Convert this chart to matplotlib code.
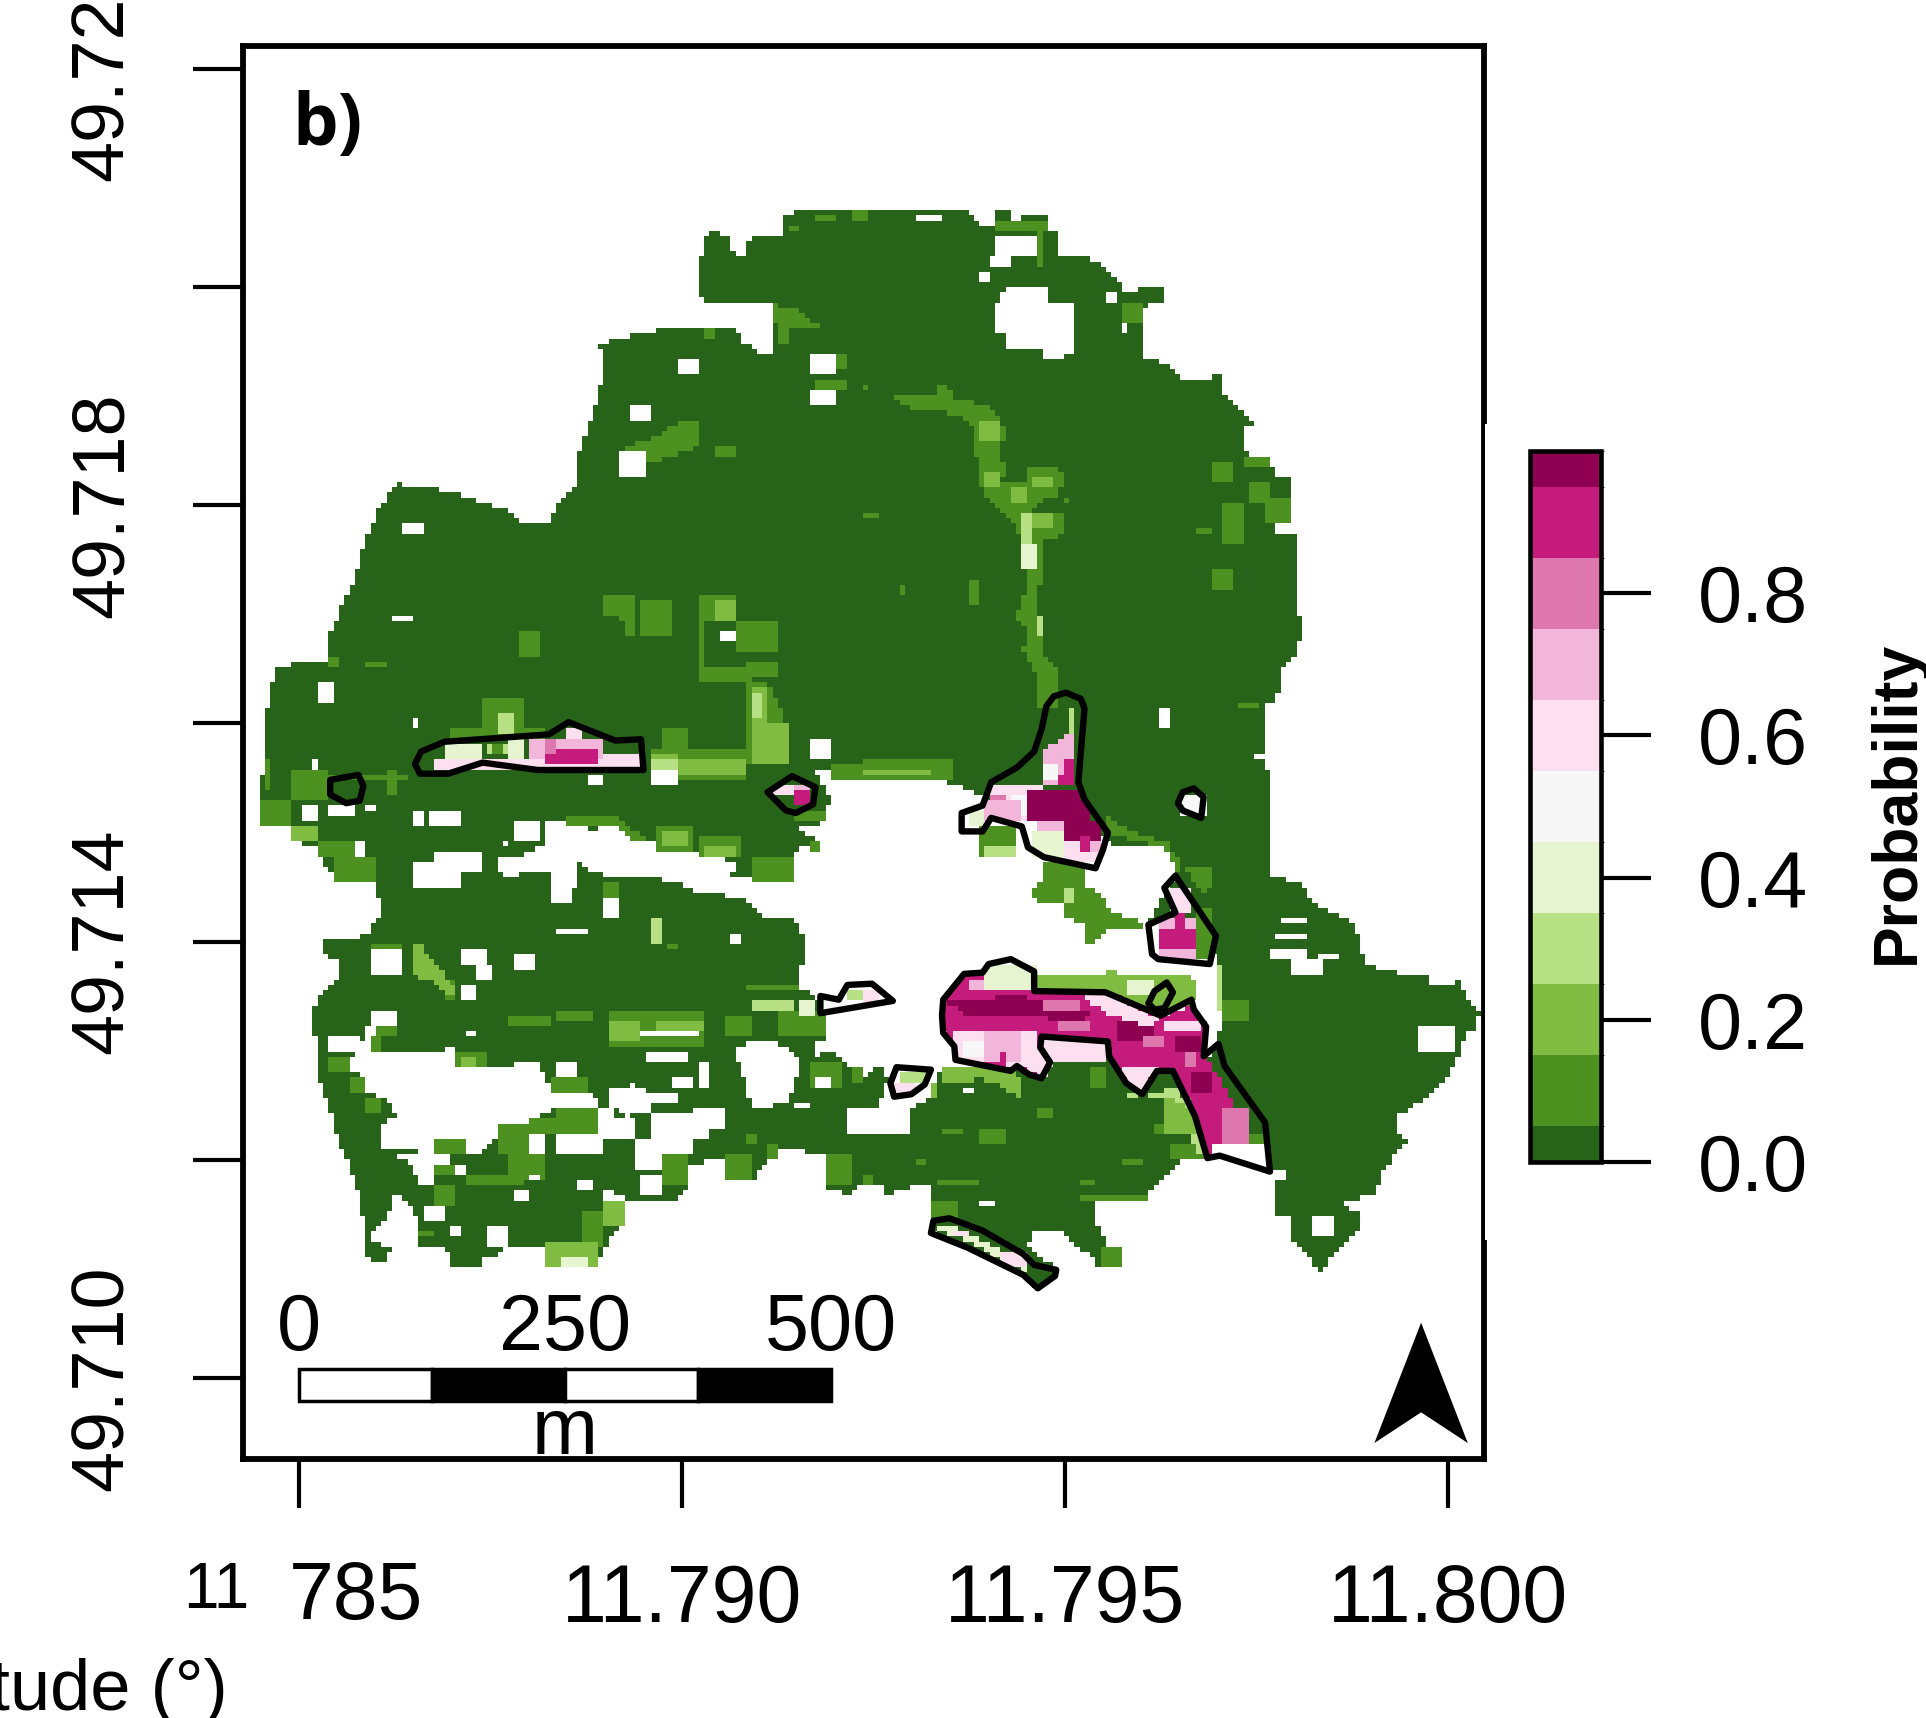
import numpy as np
import matplotlib
matplotlib.use('Agg')
import matplotlib.pyplot as plt
from matplotlib.colors import ListedColormap, BoundaryNorm
from matplotlib.patches import Polygon, Rectangle
from matplotlib.path import Path

plt.rcParams['font.family'] = ['Liberation Sans', 'DejaVu Sans']

## colour classes of the probability raster
class_breaks = [0, 0.05, 0.15, 0.25, 0.35, 0.45, 0.55, 0.65, 0.75, 0.85, 0.95, 1.0]
class_colors = ['#276419', '#4D9221', '#7FBC41', '#B8E186', '#E6F5D0', '#F7F7F7',
                '#FDE0EF', '#F1B6DA', '#DE77AE', '#C51B7D', '#8E0152']

## axis calibration: digitised position -> coordinate
lon_ticks = [11.785, 11.790, 11.795, 11.800]
lat_ticks = [49.710, 49.712, 49.714, 49.716, 49.718, 49.720, 49.722]
lat_tick_labels = ['49.710', '', '49.714', '', '49.718', '', '49.722']
lon_tick_labels = ['', '11.790', '11.795', '11.800']
prob_ticks = [0.0, 0.2, 0.4, 0.6, 0.8]
scale_m = [0, 125, 250, 375, 500]
scale_labels = ['0', '250', '500']

## digitised map shapes, polygons are (x, y) and boxes are (x0, x1, y0, y1)
site_outline = [
    (635,175),(678,171),(772,171),(793,175),(798,186),(810,186),(811,171),(819,171),(824,179),(853,175),
    (854,187),(863,192),(859,210),(888,211),(907,225),(914,238),(945,235),(949,246),(932,250),(932,295),
    (945,295),(963,311),(993,307),(997,323),(1010,335),(1023,347),(1011,347),(1011,370),(1032,371),(1037,387),
    (1049,391),(1049,426),(1037,427),(1037,435),(1053,435),(1053,500),(1058,500),(1058,520),(1053,535),(1044,544),
    (1040,563),(1035,573),(1028,576),(1028,613),(1032,628),(1032,714),(1058,719),(1072,738),(1097,750),(1105,760),
    (1110,784),(1127,791),(1162,795),(1162,803),(1183,803),(1187,795),(1192,814),(1205,825),(1200,838),(1192,841),
    (1188,857),(1179,874),(1167,890),(1148,903),(1135,908),(1135,918),(1145,928),(1127,951),(1118,973),(1093,979),
    (1105,988),(1105,1003),(1080,1028),(1075,1039),(1067,1027),(1050,1007),(1050,990),(1037,990),(1037,963),(1045,962),
    (1045,951),(1033,951),(987,943),(958,947),(950,958),(933,973),(893,978),(890,994),(900,1012),(913,1020),
    (905,1034),(893,1034),(893,1023),(880,1020),(863,1004),(840,1004),(837,1015),(860,1034),(845,1049),(830,1038),
    (760,1004),(758,993),(760,979),(760,967),(740,967),(723,974),(717,967),(700,963),(692,974),(670,966),
    (670,941),(635,935),(625,943),(612,962),(588,955),(588,943),(558,951),(562,966),(548,978),(515,978),
    (492,967),(492,985),(508,993),(508,998),(492,1015),(487,1031),(448,1031),(445,1015),(410,1015),(408,1021),
    (392,1023),(392,1034),(370,1034),(362,1015),(340,1015),(342,996),(335,982),(322,971),(315,990),(305,1001),
    (302,1010),(318,1016),(313,1027),(302,1027),(297,1017),(297,1001),(293,974),(288,958),(280,939),(272,918),
    (267,898),(258,875),(258,846),(253,845),(253,838),(258,811),(275,799),(275,784),(263,774),(263,766),
    (302,762),(302,751),(310,749),(310,738),(305,716),(273,717),(262,703),(258,692),(237,685),(237,674),
    (212,674),(212,654),(215,610),(219,562),(228,542),(267,540),(267,520),(275,503),(280,488),(288,477),
    (297,440),(305,424),(310,412),(323,395),(345,397),(375,403),(388,408),(413,415),(427,427),(448,427),
    (453,412),(467,400),(470,373),(475,357),(483,337),(488,323),(491,293),(488,280),(510,275),(543,268),
    (600,268),(605,280),(618,287),(630,287),(630,247),(578,247),(570,243),(570,210),(575,195),(578,187),
    (595,195),(597,210),(608,210),(610,195),(638,193),
]
central_gap = [
    (407,700),(422,698),(442,689),(445,667),(462,667),(482,678),(498,671),(515,684),(535,688),(558,686),
    (568,697),(598,701),(600,709),(592,716),(648,716),(648,692),(668,689),(652,675),(672,670),(672,662),
    (675,651),(662,626),(678,626),(688,634),(717,634),(720,637),(757,632),(787,643),(800,650),(895,680),
    (905,690),(947,690),(958,710),(935,752),(985,760),(990,790),(993,810),(993,840),(985,860),(900,850),
    (850,850),(800,870),(767,871),(757,884),(757,894),(743,903),(740,922),(688,922),(688,904),(715,902),
    (722,880),(715,865),(705,880),(688,866),(678,856),(665,860),(665,848),(672,846),(673,827),(667,814),
    (650,804),(650,792),(655,781),(655,770),(650,751),(637,747),(620,746),(607,731),(570,727),(549,719),
    (530,715),(483,712),(471,703),(465,734),(447,734),(447,712),(409,713),(404,703),
]
west_gap = [
    (300,836),(309,836),(310,855),(362,855),(370,852),(372,860),(380,871),(397,871),(428,865),(437,864),
    (440,871),(448,887),(453,891),(482,891),(488,902),(453,903),(432,912),(418,917),(405,924),(392,939),
    (378,939),(377,928),(355,930),(352,939),(310,935),(310,918),(322,909),(318,899),(302,891),(297,893),
    (295,876),(283,871),(285,860),(293,856),(293,853),
]
south_gaps = [
    [(320,940),(366,940),(366,947),(353,948),(353,967),(340,963),(335,947)],
    [(497,887),(517,883),(528,890),(552,891),(552,899),(530,899),(528,906),(510,909),(500,903),(497,915),(495,905)],
    [(453,925),(470,918),(495,900),(500,912),(517,913),(518,928),(492,928),(492,939),(453,939)],
    [(532,907),(591,903),(591,918),(578,920),(578,928),(565,929),(565,939),(540,940),(540,955),(518,951),(518,928),(530,926)],
    [(600,852),(622,848),(638,852),(652,863),(642,898),(613,903),(605,879),(600,863)],
    [(811,247),(819,235),(854,235),(854,247),(876,247),(876,288),(867,288),(867,292),(850,292),(850,283),(819,283),(819,275),(811,271)],
    [(985,933),(1018,930),(1030,925),(1036,955),(990,945)],
]
small_gaps = [
    (553,570,292,304),(660,682,287,304),(660,682,319,331),(513,530,331,344),(505,527,367,388),(327,344,428,436),
    (319,336,500,508),(258,271,556,573),(336,340,584,592),(587,600,516,524),(657,678,601,617),(531,553,627,640),
    (480,492,630,640),(253,258,620,629),(245,258,655,670),(267,288,655,666),(297,306,655,662),(336,344,662,671),
    (349,375,659,671),(418,440,667,686),(288,297,687,698),(410,413,687,690),(336,375,703,723),(353,392,695,711),
    (492,505,731,747),(453,479,755,762),(596,604,762,770),(631,639,767,770),(302,327,774,795),(375,397,775,787),
    (388,401,787,798),(418,436,779,790),(375,388,803,814),(302,323,823,835),(379,388,839,846),(267,293,843,855),
    (453,470,867,878),(522,570,839,846),(527,561,855,867),(570,578,867,886),(548,565,879,886),(665,678,879,886),
    (647,660,899,903),(432,444,922,939),(370,379,947,958),(431,440,958,962),(471,483,963,971),(418,431,971,979),
    (522,540,958,974),(345,362,983,995),(366,375,999,1006),(397,413,999,1015),(747,768,175,179),(811,842,191,210),
    (807,823,210,218),(798,807,223,231),(898,907,239,247),(911,919,263,271),(941,950,577,592),(954,958,584,592),
    (1019,1028,613,617),(1040,1062,747,754),(1037,1062,759,766),(1032,1062,774,783),(1049,1075,783,795),
    (1071,1088,779,783),(1153,1183,836,855),(1066,1083,991,1007),(798,811,979,983),(782,793,887,891),
]
green_dark_boxes = [
    (665,687,308,319),(693,708,171,179),(665,682,175,179),(643,652,183,187),(657,665,287,300),(682,687,287,300),
    (573,583,267,275),(583,600,364,372),(522,548,489,520),(423,440,516,536),(297,314,540,544),(267,275,537,544),
    (570,600,484,507),(600,634,508,530),(570,573,507,554),(570,612,545,555),(608,635,540,550),(392,428,569,594),
    (368,445,594,604),(540,560,595,612),(215,220,620,644),(238,267,629,654),(267,332,632,637),(314,323,629,649),
    (532,608,612,637),(678,717,624,634),(700,777,620,637),(867,872,404,412),(1010,1032,372,379),(988,1002,377,392),
    (1018,1033,392,412),(1028,1049,407,425),(993,1010,412,443),(971,988,429,437),(988,1005,465,480),(1006,1023,573,577),
    (789,797,473,492),(733,737,477,484),(913,932,247,262),(811,853,179,190),(842,850,187,218),(703,707,312,319),
    (703,715,417,423),(211,237,654,674),(272,308,700,717),(258,290,686,700),(535,565,675,692),(570,603,682,700),
    (612,648,700,717),(648,673,659,670),(657,668,684,693),(492,505,719,731),(542,552,768,774),(360,372,798,814),
    (302,327,770,774),(413,448,827,835),(453,482,823,830),(588,612,827,846),(608,650,803,808),(635,673,825,846),
    (267,283,860,875),(372,397,855,871),(305,323,835,846),(302,310,846,855),(448,480,879,891),(285,297,876,890),
    (297,310,893,907),(453,488,903,922),(432,453,912,922),(405,432,916,939),(354,378,928,939),(412,444,935,963),
    (378,428,956,967),(353,370,947,958),(355,370,967,982),(472,492,987,1015),(342,353,1002,1007),(670,692,939,966),
    (588,612,939,962),(540,562,941,966),(608,615,922,933),(625,635,933,943),(657,685,865,887),(692,702,871,882),
    (798,828,671,698),(885,900,870,885),(843,858,902,912),(950,980,930,944),(937,957,914,922),(1017,1028,922,933),
    (760,780,977,993),(763,797,963,967),(877,933,974,978),(915,928,943,947),(768,782,920,923),(798,818,920,930),
    (747,755,943,947),(877,890,963,967),(700,712,955,967),(895,913,1015,1034),(993,1017,814,830),(972,987,740,781),
]
green_dark_polys = [
    [(630,249),(650,252),(660,262),(667,265),(667,270),(640,270),(640,280),(632,280)],
    [(553,344),(570,344),(570,364),(553,370),(532,377),(505,367),(530,358)],
    [(492,484),(518,484),(518,520),(510,520),(510,505),(492,500)],
    [(608,555),(625,555),(638,580),(643,620),(608,624)],
    [(462,665),(502,665),(528,686),(515,686),(502,675),(482,675),(462,673)],
    [(497,823),(572,823),(572,852),(497,852)],
    [(847,701),(883,705),(882,722),(897,727),(900,741),(932,753),(932,758),(900,757),(893,765),(892,772),(885,768),(883,754),(865,746),(865,735),(847,738),(838,727),(847,719)],
    [(897,662),(920,678),(950,686),(962,705),(987,707),(987,722),(980,727),(963,708),(957,709),(950,692),(927,685),(903,681)],
    [(725,323),(760,322),(762,312),(772,312),(775,325),(800,330),(815,340),(818,360),(812,365),(818,380),(815,395),
     (835,395),(837,380),(860,380),(867,392),(860,405),(850,405),(842,412),(840,418),(867,420),(867,435),(850,440),
     (846,480),(845,500),(850,505),(850,535),(862,545),(863,575),(845,578),(842,550),(833,530),(835,510),(827,502),
     (835,480),(838,460),(832,440),(825,425),(800,405),(797,385),(790,345),(780,338),(760,335),(745,335)],
]
green_mid_boxes = [
    (795,815,342,358),(800,812,385,398),(840,858,388,396),(822,835,398,410),(840,858,418,430),(610,625,560,600),
    (610,640,590,622),(535,608,618,630),(580,600,490,505),(237,258,674,686),(540,560,678,690),(575,600,690,700),
    (497,522,830,850),(535,572,830,838),(445,488,1011,1031),(492,508,979,1000),
    (947,977,895,922),(530,552,615,622),(376,390,860,871),(700,760,625,633),
]
green_mid_polys = [
    [(845,796),(897,795),(900,787),(913,795),(970,795),(975,814),(967,819),(953,822),(940,825),(900,808),(843,806)],
    [(768,871),(827,871),(833,895),(813,884),(800,879),(770,882),(757,884),(757,901)],
    [(335,770),(342,770),(360,790),(372,810),(366,812),(350,798),(335,795)],
]
green_pale_boxes = [
    (610,648,814,822),(532,552,620,628),(867,875,724,735),(803,828,689,698),(405,418,580,597),(990,993,787,822),
    (530,538,750,770),(833,840,420,445),(842,847,500,520),(612,620,565,585),(395,415,606,616),
]
green_pale_polys = [
    [(913,890),(933,893),(957,884),(967,901),(953,895),(927,895)],
    [(967,922),(983,922),(983,941),(975,941)],
]
green_white_boxes = [
    (650,665,815,826),(457,478,1025,1031),(917,940,800,811),(833,842,445,465),(362,392,606,618),(415,428,604,618),
]
## fragment interiors, painted in this order: (class value, shape)
body_b = [(768,814),(785,793),(800,792),(842,800),(842,807),(900,808),(945,827),(970,820),(982,836),(980,860),
          (1000,890),(1017,930),(988,932),(983,943),(973,909),(955,872),(942,872),(930,891),(917,882),(903,860),
          (902,848),(848,844),(847,853),(855,865),(848,878),(838,875),(828,868),(823,872),(778,863),(777,852),
          (768,841),(767,827)]
fragment_layers = [
    (0.6,(353,442,620,627)),(0.6,(442,520,616,625)),(0.7,(432,490,602,617)),(0.9,(442,488,612,623)),
    (0.8,(442,453,603,613)),(0.6,(462,472,592,602)),(0.1,(402,410,605,613)),
    (0.7,(645,660,640,656)),(0.9,(648,658,644,657)),(0.6,(630,648,640,650)),
    (0.3,(868,876,577,597)),
    (0.7,[(868,597),(876,597),(876,640),(847,640),(847,613),(860,605)]),
    (0.9,[(868,617),(876,617),(876,640),(860,640)]),(0.5,(850,863,623,637)),
    (0.6,(807,847,640,669)),(0.8,(807,820,650,663)),(0.5,(823,837,650,663)),
    (1.0,(837,877,644,669)),(0.7,(803,833,651,667)),(0.4,(787,803,662,674)),
    (1.0,(838,887,651,667)),(1.0,(867,897,667,684)),(0.7,(843,867,667,678)),(0.4,(840,867,678,697)),
    (0.6,(867,897,684,703)),(0.7,(880,895,684,695)),(0.9,(880,887,680,692)),
    (0.5,(959,980,648,664)),
    (0.7,(945,972,748,780)),(0.9,(945,972,758,773)),(0.9,(957,963,743,758)),(0.6,(953,967,723,743)),
    (0.9,body_b),
    (0.4,(802,842,787,806)),(0.7,(788,803,799,806)),
    (1.0,[(773,817),(827,811),(887,825),(880,832),(827,827),(787,827)]),
    (0.8,(847,880,814,824)),(0.8,(860,885,832,838)),
    (1.0,(907,940,830,849)),(1.0,(957,977,846,857)),(1.0,(970,987,874,890)),
    (0.6,[(880,811),(905,812),(945,830),(935,836),(900,826)]),(0.6,(947,977,830,841)),
    (0.6,[(775,840),(790,839),(800,842),(845,840),(845,850),(858,868),(848,878),(828,868),(778,863)]),
    (0.7,(803,830,842,863)),(0.5,(783,803,849,860)),(0.9,(813,820,857,863)),
    (0.6,(850,900,849,863)),(0.6,[(912,868),(942,870),(930,891),(918,885)]),
    (0.8,(993,1015,903,931)),(0.8,(930,947,845,851)),(0.8,(965,975,858,868)),
    (0.3,(688,708,806,817)),(0.5,(668,688,815,822)),(0.6,(700,717,808,819)),
    (0.3,(733,755,872,882)),(0.6,(730,743,883,890)),
    (0.4,[(765,996),(790,1005),(830,1025),(840,1038),(830,1034),(790,1012),(762,1002)]),
    (0.6,(775,790,1001,1008)),(0.6,(815,835,1020,1034)),
]
## digitised fragment outlines
fragment_outlines = [
    [(269,635),(292,631),(296,640),(293,652),(282,654),(269,647)],
    [(338,622),(343,612),(362,604),(447,598),(463,588),(501,603),(522,602),(524,627),(438,627),(393,621),(365,630),(342,630)],
    [(625,645),(645,632),(664,641),(662,655),(648,662),(640,660)],
    [(852,575),(858,567),(868,564),(880,569),(883,577),(878,637),(883,651),(902,678),(898,692),(892,707),(850,698),
     (837,690),(832,673),(807,666),(800,677),(783,677),(783,662),(800,656),(807,637),(828,625),(842,612),(848,594)],
    [(959,654),(963,645),(972,642),(980,649),(978,666),(963,660)],
    [(957,713),(990,762),(985,785),(943,781),(938,777),(935,753),(957,743),(948,723)],
    [(768,814),(785,793),(800,792),(805,785),(823,781),(842,791),(842,807),(900,808),(945,827),(970,814),(972,822),
     (982,836),(980,860),(992,850),(997,868),(1030,914),(1034,954),(993,941),(983,943),(973,909),(955,872),(942,872),
     (930,891),(917,882),(903,860),(902,848),(848,844),(847,853),(855,865),(848,878),(838,875),(828,868),(823,872),
     (778,863),(777,852),(768,841),(767,827)],
    [(935,817),(940,807),(950,800),(955,808),(948,821),(940,822)],
    [(668,811),(683,814),(690,802),(710,801),(727,815),(668,825)],
    [(730,869),(758,871),(753,883),(742,891),(728,893),(725,882)],
    [(760,994),(773,992),(800,1002),(833,1021),(842,1030),(860,1034),(859,1039),(845,1049),(833,1038),(788,1016),(758,1004)],
]
north_arrow = [(1157,1077),(1195,1175),(1157,1150),(1119,1175)]


## calibration of the digitised positions
def to_lon(x):
    return 11.785 + (np.asarray(x, dtype=float) - 243.5) * 0.015 / 935.5

def to_lat(y):
    return 49.710 + (1122 - np.asarray(y, dtype=float)) * 0.012 / 1066.0

def geo(pts):
    pts = np.asarray(pts, dtype=float)
    return np.column_stack([to_lon(pts[:, 0]), to_lat(pts[:, 1])])

def fx(px):
    return px / 1926.0

def fy(py):
    return 1 - py / 1718.0


## raster grid
lon_cells = np.arange(to_lon(205), to_lon(1210), 6.9e-5)
lat_cells = np.arange(to_lat(1055), to_lat(165), 4.7e-5)
lon_mesh, lat_mesh = np.meshgrid(lon_cells, lat_cells)
centres = np.column_stack([lon_mesh.ravel(), lat_mesh.ravel()])
raster = np.full(lon_mesh.shape, np.nan)

def paint(shape, value):
    if isinstance(shape, tuple):
        x0, x1, y0, y1 = shape
        shape = [(x0, y0), (x1, y0), (x1, y1), (x0, y1)]
    mask = Path(geo(shape)).contains_points(centres).reshape(raster.shape)
    raster[mask] = value

paint(site_outline, 0.02)
paint(central_gap, np.nan)
paint(west_gap, np.nan)
for s in south_gaps:
    paint(s, np.nan)
for s in green_dark_boxes + green_dark_polys:
    paint(s, 0.1)
for s in green_mid_boxes + green_mid_polys:
    paint(s, 0.2)
for s in green_pale_boxes + green_pale_polys:
    paint(s, 0.3)
for s in green_white_boxes:
    paint(s, 0.4)
for s in small_gaps:
    paint(s, np.nan)
for v, s in fragment_layers:
    paint(s, v)

## draw
fig = plt.figure(figsize=(19.26, 17.18), dpi=100, facecolor='white')
ax = fig.add_axes([fx(243), fy(1459), fx(1484) - fx(243), fy(46) - fy(1459)])

cmap = ListedColormap(class_colors)
cmap.set_bad('white')
norm = BoundaryNorm(class_breaks, cmap.N)
dlon = 6.9e-5 / 2
dlat = 4.7e-5 / 2
im = ax.imshow(np.ma.masked_invalid(raster), origin='lower', cmap=cmap, norm=norm, aspect='auto',
               interpolation='nearest',
               extent=[lon_cells[0] - dlon, lon_cells[-1] + dlon, lat_cells[0] - dlat, lat_cells[-1] + dlat])

for outline in fragment_outlines:
    ax.add_patch(Polygon(geo(outline), closed=True, fill=False, edgecolor='black', lw=4.6, joinstyle='round'))

ax.add_patch(Polygon(geo(north_arrow), closed=True, facecolor='black', edgecolor='none'))

## scale bar, 500 m along the parallel
m_per_deg = 500 / (0.015 / 935.5 * 433.5)
bar_lon = [11.785 + m / m_per_deg for m in scale_m]
for i in range(4):
    ax.add_patch(Rectangle((bar_lon[i], to_lat(1141)), bar_lon[i + 1] - bar_lon[i], to_lat(1115) - to_lat(1141),
                           facecolor='white' if i % 2 == 0 else 'black', edgecolor='black', lw=2.5))
for lab, i in zip(scale_labels, [0, 2, 4]):
    ax.text(bar_lon[i], to_lat(1099), lab, ha='center', va='baseline', fontsize=57)
ax.text(bar_lon[2], to_lat(1184), 'm', ha='center', va='baseline', fontsize=57)

ax.text(to_lon(238), to_lat(118), 'b)', family='Open Sans', fontweight='bold', fontsize=52,
        ha='left', va='baseline')

ax.set_xlim(to_lon(198), to_lon(1208.2))
ax.set_ylim(to_lat(1188), to_lat(37.5))
ax.set_xticks(lon_ticks)
ax.set_xticklabels(lon_tick_labels, fontsize=58)
ax.set_yticks(lat_ticks)
ax.set_yticklabels(lat_tick_labels, fontsize=53, rotation=90, va='center')
ax.tick_params(axis='x', length=35, width=3, pad=40)
ax.tick_params(axis='y', length=36, width=3, pad=40)
for sp in ax.spines.values():
    sp.set_linewidth(4.2)

## the first longitude label and the axis title, both run off in the source
fig.text(fx(289), fy(1619), '785', fontsize=58, ha='left', va='baseline')
fig.text(fx(183), fy(1608), '11', fontsize=46, ha='left', va='baseline')
fig.text(fx(228), fy(1710), 'Longitude (°)', fontsize=52, ha='right', va='baseline')

## colour key
cax = fig.add_axes([fx(1530), fy(1162), fx(1601) - fx(1530), fy(451) - fy(1162)])
cb = fig.colorbar(im, cax=cax, boundaries=class_breaks, spacing='proportional', ticks=prob_ticks)
cb.set_ticklabels(['%.1f' % t for t in prob_ticks])
cb.ax.tick_params(length=36, width=3, pad=34, labelsize=57)
cb.outline.set_linewidth(3.3)
fig.text(fx(1868), fy(802), 'Probability', rotation=90, fontsize=45, fontweight='bold', ha='left', va='center')

## right frame line is half covered along the key
fig.add_artist(Rectangle((fx(1485), fy(1240)), fx(1500) - fx(1485), fy(424) - fy(1240), transform=fig.transFigure,
                         facecolor='white', edgecolor='none', zorder=10))

fig.savefig('out.png', dpi=100)
